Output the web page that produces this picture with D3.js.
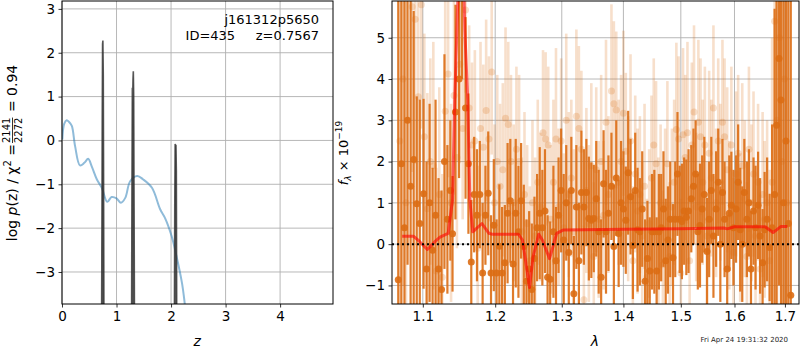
<!DOCTYPE html>
<html>
<head>
<meta charset="utf-8">
<script src="https://cdn.jsdelivr.net/npm/d3@7"></script>
<style>
  body { margin: 0; background: #fff; }
  svg { display: block; font-family: "DejaVu Sans", sans-serif; }
</style>
</head>
<body>
<svg id="chart" width="800" height="350"></svg>
<script>
// ---- p(z) panel ----
const pzZ   = [0.006, 0.04, 0.086, 0.13, 0.18, 0.24, 0.33, 0.41, 0.48, 0.545, 0.64, 0.73, 0.83, 0.91, 1.0, 1.08, 1.16, 1.25, 1.38, 1.49, 1.65, 1.80, 1.89, 2.01, 2.10, 2.20, 2.25, 2.30];
const pzLog = [0.02, 0.38, 0.46, 0.42, 0.33, -0.13, -0.57, -0.51, -0.42, -0.59, -0.89, -1.08, -1.40, -1.29, -1.32, -1.42, -1.31, -0.93, -0.81, -0.89, -1.08, -1.57, -1.77, -2.18, -2.64, -3.25, -3.71, -4.3];

const spikeZ = [
  [0.725, 0.732, 0.738, 0.744, 0.750, 0.757, 0.763, 0.770],
  [1.275, 1.283, 1.290, 1.296, 1.302, 1.308, 1.315, 1.322, 1.330],
  [2.060, 2.068, 2.075, 2.082, 2.090, 2.097, 2.105]
];
const spikeLog = [
  [-4.5, -2.0, 0.5, 2.2, 2.28, 1.5, -1.0, -4.5],
  [-4.5, -1.0, 1.2, 0.9, 1.4, 1.58, 1.0, -1.5, -4.5],
  [-4.5, -1.5, -0.08, -0.12, -0.10, -0.70, -4.5]
];

const zTicks = [0, 1, 2, 3, 4];
const pzTicks = [-3, -2, -1, 0, 1, 2, 3];

// ---- spectrum panel ----
const darkLam = [1.068, 1.072, 1.076, 1.080, 1.084, 1.088, 1.092, 1.096, 1.101, 1.105, 1.109, 1.113, 1.117, 1.121, 1.125, 1.129, 1.133, 1.137, 1.140, 1.144,
  1.149, 1.153, 1.158, 1.162, 1.166, 1.170, 1.174, 1.178, 1.182, 1.186, 1.190, 1.194, 1.198, 1.202, 1.206, 1.210, 1.214, 1.218, 1.222, 1.226,
  1.230, 1.234, 1.238, 1.242, 1.246, 1.250, 1.254, 1.258, 1.262, 1.266, 1.270, 1.274, 1.278, 1.282, 1.287, 1.291, 1.295, 1.299, 1.303, 1.307,
  1.311, 1.315, 1.319, 1.323, 1.327, 1.331, 1.335, 1.339, 1.343, 1.347, 1.351, 1.355, 1.359, 1.363, 1.367, 1.371, 1.375, 1.380, 1.384, 1.388,
  1.392, 1.396, 1.400, 1.404, 1.408, 1.412, 1.416, 1.420, 1.424, 1.428, 1.432, 1.437, 1.441, 1.445, 1.449, 1.453, 1.457, 1.461, 1.465, 1.469,
  1.473, 1.477, 1.481, 1.486, 1.490, 1.494, 1.498, 1.502, 1.506, 1.510, 1.514, 1.519, 1.523, 1.527, 1.531, 1.535, 1.539, 1.543, 1.548, 1.552,
  1.556, 1.560, 1.565, 1.569, 1.573, 1.577, 1.581, 1.586, 1.590, 1.594, 1.598, 1.603, 1.607, 1.611, 1.615, 1.619, 1.624, 1.628, 1.632, 1.637,
  1.641, 1.646, 1.650, 1.655, 1.659, 1.664, 1.669, 1.674, 1.679, 1.683, 1.688, 1.692, 1.697, 1.702, 1.707, 1.712];
const darkFlux = [-0.86, 1.95, 0.40, 3.00, 1.40, 2.05, 0.98, 0.50, 1.22, -0.60, 1.00, -0.15, 0.70, -0.60, -1.10, 2.00, 0.60, 1.30, 0.25, 3.20,
  4.00, 6.50, 3.30, 1.95, -0.43, 1.20, 0.70, 1.20, -0.70, 0.70, 1.23, -0.70, 0.46, -0.70, -0.05, -0.70, -0.45, 0.75, 1.05, -0.48,
  0.75, 0.30, 1.05, -0.06, -0.90, -0.60, -1.10, -0.35, 0.40, 0.75, 0.40, 0.80, -0.80, -0.85, 0.30, -0.40, 0.70, 1.30, 0.10, 1.00,
  -0.20, 1.30, -1.20, 0.90, -0.40, 1.25, 0.90, 1.25, 0.62, 0.58, 0.62, 1.10, 0.30, -0.80, 1.46, 0.30, 0.75, 1.40, -0.06, 1.60,
  0.26, 1.00, 0.85, 0.58, 1.73, 1.15, -0.03, 1.30, 0.35, 0.30, 0.85, -0.90, -0.35, -0.65, 0.30, 0.30, -0.65, 0.30, 0.40, 0.85,
  -0.40, 0.10, 0.60, -0.33, 0.60, 1.70, 0.60, 0.55, 0.80, 0.65, 0.80, 1.10, 1.40, 1.70, 0.30, 0.45, 0.85, 1.20, -0.18, 0.60,
  1.30, 0.20, 0.85, 1.50, 0.00, 1.25, 0.60, -0.60, 0.75, 0.94, 0.40, 0.85, 1.50, 0.35, 0.00, 1.25, 0.60, 1.00, -0.60, 0.80,
  0.40, 0.94, 0.20, -0.45, 0.35, 0.60, -0.08, 0.40, 1.20, 2.88, 4.50, 3.49, 1.00, 2.50, 0.50, -1.24];
const darkErr = [7.0, 4.5, 5.5, 3.5, 4.5, 3.6, 2.6, 3.0, 2.3, 2.6, 2.4, 2.0, 2.8, 2.2, 2.4, 2.6, 1.8, 1.7, 1.4, 2.6,
  2.4, 2.5, 2.2, 1.7, 1.5, 1.4, 1.6, 1.3, 1.7, 1.2, 1.5, 1.4, 1.6, 1.3, 1.5, 1.6, 1.4, 1.7, 1.5, 1.5,
  1.8, 1.6, 1.4, 1.5, 1.5, 1.4, 1.6, 1.5, 1.3, 1.6, 1.4, 1.5, 1.5, 1.4, 1.6, 1.3, 1.4, 1.5, 1.6, 1.4,
  1.5, 1.3, 1.4, 1.5, 1.4, 1.5, 1.4, 1.3, 1.5, 1.4, 1.3, 1.4, 1.5, 1.4, 1.3, 1.5, 1.4, 1.3, 1.5, 1.4,
  1.3, 1.5, 1.4, 1.3, 1.5, 1.4, 1.3, 1.4, 1.5, 1.3, 1.4, 1.5, 1.4, 1.3, 1.4, 1.5, 1.3, 1.4, 1.3, 1.4,
  1.5, 1.3, 1.4, 1.3, 1.4, 1.5, 1.3, 1.4, 1.3, 1.4, 1.5, 1.3, 1.4, 1.3, 1.4, 1.5, 1.3, 1.4, 1.3, 1.4,
  1.3, 1.5, 1.4, 1.3, 1.4, 1.3, 1.4, 1.3, 1.4, 1.3, 1.4, 1.3, 1.4, 1.5, 1.4, 1.3, 1.4, 1.3, 1.4, 1.3,
  1.5, 1.3, 1.4, 1.3, 1.4, 1.5, 1.3, 2.5, 4.5, 5.0, 5.5, 5.0, 6.0, 6.0, 7.0, 7.5];

const lightLam = [1.070, 1.074, 1.078, 1.086, 1.090, 1.094, 1.098, 1.102, 1.106, 1.110, 1.114, 1.118, 1.122, 1.126, 1.130, 1.134, 1.138, 1.142, 1.146, 1.150,
  1.154, 1.158, 1.163, 1.167, 1.171, 1.175, 1.179, 1.183, 1.187, 1.191, 1.195, 1.199, 1.203, 1.207, 1.211, 1.215, 1.219, 1.223, 1.227, 1.231,
  1.235, 1.239, 1.243, 1.247, 1.251, 1.255, 1.259, 1.263, 1.267, 1.271, 1.275, 1.279, 1.283, 1.287, 1.291, 1.295, 1.299, 1.303, 1.307, 1.311,
  1.315, 1.319, 1.323, 1.327, 1.331, 1.335, 1.339, 1.343, 1.347, 1.351, 1.355, 1.359, 1.363, 1.367, 1.371, 1.375, 1.380, 1.384, 1.388, 1.392,
  1.396, 1.400, 1.404, 1.408, 1.412, 1.416, 1.420, 1.424, 1.428, 1.432, 1.436, 1.440, 1.444, 1.448, 1.452, 1.456, 1.460, 1.464, 1.468, 1.472,
  1.476, 1.480, 1.484, 1.488, 1.492, 1.496, 1.500, 1.504, 1.508, 1.512, 1.516, 1.520, 1.524, 1.528, 1.532, 1.536, 1.540, 1.544, 1.548, 1.552,
  1.556, 1.560, 1.565, 1.569, 1.573, 1.577, 1.581, 1.586, 1.590, 1.594, 1.598, 1.603, 1.607, 1.611, 1.615, 1.620, 1.624, 1.628, 1.633, 1.637,
  1.641, 1.646, 1.650, 1.655, 1.659, 1.664, 1.669, 1.674, 1.679, 1.684, 1.689, 1.694, 1.699, 1.704];
const lightFlux = [2.50, 4.00, 1.00, 5.75, 5.45, 3.57, 5.80, 2.60, 0.86, 2.00, 1.90, -0.65, 1.20, -0.80, 3.22, 4.12, 1.00, 3.60, 2.10, 4.36,
  2.80, 5.67, 3.30, 2.40, 2.50, -0.10, 2.80, 2.35, 3.24, 2.55, 4.17, 1.00, 2.00, 1.40, 1.80, 3.05, 2.90, 2.00, 1.00, 2.30,
  2.00, 0.30, 1.20, 0.50, -0.40, 1.00, 0.20, 1.50, 0.90, 2.70, 2.55, 2.40, 0.60, 1.50, 2.55, 0.90, 2.50, 0.40, 3.00, 1.20,
  1.60, 0.30, 3.10, 2.80, 2.30, -1.35, 1.30, 0.50, 1.90, -0.30, 1.80, 0.60, 2.00, 0.70, 2.95, 1.20, 3.71, 3.40, 3.25, 1.50,
  2.00, 3.17, 2.25, 1.10, 2.50, -0.40, 1.70, 0.80, 1.20, 0.20, 1.40, -0.80, 0.50, 1.60, 2.40, 1.95, 0.30, 1.00, -0.50, 0.90,
  1.95, -0.30, 0.90, 1.50, 2.78, 2.55, -0.70, 2.65, 2.10, 2.70, -0.40, 2.40, 3.20, 0.90, 2.95, 2.60, 1.50, 2.40, 0.20, 2.20,
  1.60, 3.30, 1.00, 2.50, 1.50, 2.95, 2.60, 1.80, 0.70, 2.40, -0.20, 1.70, 2.20, 0.40, 1.90, 1.10, -0.30, 2.30, 1.00, 1.70,
  0.20, 1.50, -0.60, 1.20, 0.60, 1.00, -0.40, 1.50, 5.40, 3.00, 5.00, 2.00, 4.00, 1.00];
const lightErr = [6.0, 5.0, 5.0, 4.0, 3.5, 3.0, 3.0, 2.5, 2.8, 2.5, 3.0, 2.5, 2.6, 2.5, 3.0, 2.5, 2.4, 2.4, 2.2, 2.4,
  2.2, 2.0, 2.0, 2.0, 2.2, 2.0, 2.1, 2.0, 2.2, 2.0, 2.0, 1.9, 2.1, 2.0, 2.1, 2.2, 2.0, 2.1, 1.9, 2.0,
  2.1, 1.8, 2.0, 1.9, 1.8, 2.0, 1.9, 2.0, 1.8, 2.0, 2.1, 1.9, 1.8, 2.0, 2.2, 1.9, 2.0, 1.8, 2.1, 2.0,
  1.9, 2.0, 2.1, 2.0, 1.9, 1.8, 2.0, 1.9, 2.0, 1.8, 2.0, 1.9, 2.1, 1.8, 2.0, 1.9, 2.1, 2.0, 1.9, 2.0,
  2.1, 2.0, 1.9, 2.0, 2.1, 1.8, 1.9, 2.0, 1.9, 1.8, 2.0, 1.9, 1.8, 2.0, 2.1, 2.0, 1.8, 1.9, 1.8, 1.9,
  2.0, 1.8, 1.9, 2.0, 2.1, 2.0, 1.8, 2.1, 2.0, 2.2, 1.8, 2.0, 2.1, 1.8, 2.0, 1.9, 2.0, 1.9, 1.8, 2.0,
  1.9, 2.0, 1.8, 2.0, 1.9, 2.0, 1.9, 2.0, 1.8, 1.9, 1.8, 2.0, 1.9, 1.8, 2.0, 1.9, 1.8, 2.0, 1.9, 2.0,
  1.8, 1.9, 1.8, 2.0, 1.9, 2.0, 2.2, 3.5, 5.0, 5.5, 5.0, 6.0, 6.0, 6.5];

const modelLam  = [1.073, 1.088, 1.096, 1.106, 1.116, 1.123, 1.134, 1.140, 1.143, 1.146, 1.150, 1.154, 1.157, 1.161, 1.164, 1.168, 1.181, 1.191, 1.196, 1.234,
  1.240, 1.246, 1.2505, 1.256, 1.2645, 1.270, 1.281, 1.287, 1.292, 1.302, 1.400, 1.500, 1.580, 1.586, 1.600, 1.660, 1.676, 1.692, 1.705];
const modelFlux = [0.19, 0.19, 0.06, -0.13, 0.06, 0.17, 0.26, 1.07, 3.49, 5.17, 7.5, 7.5, 5.17, 3.5, 1.07, 0.30, 0.50, 0.26, 0.24, 0.24,
  0.10, -0.55, -1.05, -0.30, 0.24, 0.10, -0.35, -0.02, 0.26, 0.34, 0.36, 0.37, 0.39, 0.37, 0.42, 0.42, 0.28, 0.43, 0.43];

const lamTicks = [1.1, 1.2, 1.3, 1.4, 1.5, 1.6, 1.7];
const fluxTicks = [-1, 0, 1, 2, 3, 4, 5];

// ---- drawing ----
const svg = d3.select('#chart');
svg.append('rect').attr('width', 800).attr('height', 350).attr('fill', '#fff');

const gridColor = '#b0b0b0';
const tickFont = '13.5px';
const orange = '#dc6d14';

function drawGrid(g, x, y, xTicks, yTicks) {
  const [x0, x1] = x.range();
  const [y0, y1] = y.range();
  g.append('g').selectAll('line').data(xTicks).join('line')
    .attr('x1', d => x(d)).attr('x2', d => x(d)).attr('y1', y1).attr('y2', y0)
    .attr('stroke', gridColor).attr('stroke-width', 0.9);
  g.append('g').selectAll('line').data(yTicks).join('line')
    .attr('x1', x0).attr('x2', x1).attr('y1', d => y(d)).attr('y2', d => y(d))
    .attr('stroke', gridColor).attr('stroke-width', 0.9);
}

function drawAxes(g, x, y, xTicks, yTicks, xFmt) {
  const [x0, x1] = x.range();
  const [y0, y1] = y.range();
  const xa = g.append('g').attr('transform', `translate(0,${y0})`)
    .call(d3.axisBottom(x).tickValues(xTicks).tickFormat(xFmt).tickSize(3.5).tickPadding(3.5));
  const ya = g.append('g').attr('transform', `translate(${x0},0)`)
    .call(d3.axisLeft(y).tickValues(yTicks).tickFormat(d => d < 0 ? '\u2212' + Math.abs(d) : d).tickSize(3.5).tickPadding(3.5));
  [xa, ya].forEach(a => {
    a.select('.domain').remove();
    a.selectAll('text').attr('font-size', tickFont).attr('fill', '#000').attr('font-family', '"DejaVu Sans", sans-serif');
    a.selectAll('line').attr('stroke', '#000').attr('stroke-width', 0.8);
  });
  g.append('rect').attr('x', x0).attr('y', y1).attr('width', x1 - x0).attr('height', y0 - y1)
    .attr('fill', 'none').attr('stroke', '#000').attr('stroke-width', 1);
}

// left panel
const xz = d3.scaleLinear().domain([0, 4.97]).range([62, 333]);
const yp = d3.scaleLinear().domain([-3.73, 3.18]).range([304, 1]);
const left = svg.append('g');
left.append('clipPath').attr('id', 'clipL').append('rect')
  .attr('x', 62).attr('y', 1).attr('width', 271).attr('height', 303);
drawGrid(left, xz, yp, zTicks, pzTicks);
const lclip = left.append('g').attr('clip-path', 'url(#clipL)');
const pzLine = d3.line().x(d => xz(d[0])).y(d => yp(d[1])).curve(d3.curveCatmullRom);
lclip.append('path').datum(d3.zip(pzZ, pzLog)).attr('d', pzLine)
  .attr('fill', 'none').attr('stroke', '#1f77b4').attr('stroke-opacity', 0.5).attr('stroke-width', 2);
spikeZ.forEach((zs, i) => {
  lclip.append('path').datum(d3.zip(zs, spikeLog[i]))
    .attr('d', d3.line().x(d => xz(d[0])).y(d => yp(d[1])))
    .attr('fill', '#333').attr('fill-opacity', 0.8)
    .attr('stroke', '#333').attr('stroke-opacity', 0.8).attr('stroke-width', 1.6);
});
drawAxes(left, xz, yp, zTicks, pzTicks, d3.format('d'));

left.append('text').attr('x', 319).attr('y', 24).attr('text-anchor', 'end')
  .attr('font-size', '13px').text('j161312p5650');
left.append('text').attr('x', 319).attr('y', 40).attr('text-anchor', 'end')
  .attr('font-size', '13px').attr('xml:space', 'preserve').text('ID=435     z=0.7567');
left.append('text').attr('x', xz(2.48)).attr('y', 346).attr('text-anchor', 'middle')
  .attr('font-size', '14px').attr('font-style', 'italic').text('z');

// rotated y label with stacked fraction
const ylab = svg.append('g');
const part1 = ylab.append('text').attr('font-size', '14px').attr('y', 0);
part1.append('tspan').text('log ');
part1.append('tspan').attr('font-style', 'italic').text('p');
part1.append('tspan').text('(z) / \u03c7');
part1.append('tspan').attr('font-size', '10px').attr('dy', -6).text('2');
part1.append('tspan').attr('dy', 6).text(' = ');
const w1 = part1.node().getComputedTextLength();
const num = ylab.append('text').attr('font-size', '10px').attr('text-anchor', 'middle').text('2141');
const fw = num.node().getComputedTextLength();
num.attr('x', w1 + fw / 2 + 1).attr('y', -7);
ylab.append('text').attr('font-size', '10px').attr('text-anchor', 'middle')
  .attr('x', w1 + fw / 2 + 1).attr('y', 5).text('2272');
ylab.append('line').attr('x1', w1 + 1).attr('x2', w1 + fw + 1).attr('y1', -4.5).attr('y2', -4.5)
  .attr('stroke', '#000').attr('stroke-width', 0.8);
const part3 = ylab.append('text').attr('font-size', '14px').attr('x', w1 + fw + 2).attr('y', 0)
  .attr('xml:space', 'preserve').text(' = 0.94');
const wTot = w1 + fw + 2 + part3.node().getComputedTextLength();
ylab.attr('transform', `translate(17,${153 + wTot / 2}) rotate(-90)`);

// right panel
const xl = d3.scaleLog().domain([1.060, 1.729]).range([392, 799]);
const yf = d3.scaleLinear().domain([-1.45, 5.89]).range([304, 1]);
const right = svg.append('g');
right.append('clipPath').attr('id', 'clipR').append('rect')
  .attr('x', 392).attr('y', 1).attr('width', 407).attr('height', 303);
drawGrid(right, xl, yf, lamTicks, fluxTicks);
const rclip = right.append('g').attr('clip-path', 'url(#clipR)');

function errSeries(lam, flux, err, alpha, width) {
  const pts = d3.zip(lam, flux, err);
  const g = rclip.append('g');
  g.selectAll('line').data(pts).join('line')
    .attr('x1', d => xl(d[0])).attr('x2', d => xl(d[0]))
    .attr('y1', d => yf(d[1] - d[2])).attr('y2', d => yf(d[1] + d[2]))
    .attr('stroke', orange).attr('stroke-opacity', alpha).attr('stroke-width', width);
  g.selectAll('circle').data(pts).join('circle')
    .attr('cx', d => xl(d[0])).attr('cy', d => yf(d[1])).attr('r', 3.5)
    .attr('fill', orange).attr('fill-opacity', alpha);
}
// light spectrum underneath, dark one on top
errSeries(lightLam, lightFlux, lightErr, 0.22, 2.6);
errSeries(darkLam, darkFlux, darkErr, 0.9, 2.2);

rclip.append('path').datum(d3.zip(modelLam, modelFlux))
  .attr('d', d3.line().x(d => xl(d[0])).y(d => yf(d[1])))
  .attr('fill', 'none').attr('stroke', '#ff0000').attr('stroke-opacity', 0.6)
  .attr('stroke-width', 3).attr('stroke-linejoin', 'round');

rclip.append('line').attr('x1', 392).attr('x2', 799).attr('y1', yf(0)).attr('y2', yf(0))
  .attr('stroke', '#000').attr('stroke-width', 2).attr('stroke-dasharray', '2,3');

drawAxes(right, xl, yf, lamTicks, fluxTicks, d3.format('.1f'));

right.append('text').attr('x', 595).attr('y', 346).attr('text-anchor', 'middle')
  .attr('font-size', '14px').attr('font-style', 'italic').text('\u03bb');

const flab = svg.append('text').attr('transform', 'translate(348,153) rotate(-90)')
  .attr('text-anchor', 'middle').attr('font-size', '13px');
flab.append('tspan').attr('font-style', 'italic').text('f');
flab.append('tspan').attr('font-size', '9px').attr('dy', 3).attr('font-style', 'italic').text('\u03bb');
flab.append('tspan').attr('dy', -3).text(' \u00d7 10');
flab.append('tspan').attr('font-size', '9px').attr('dy', -6).text('\u221219');

svg.append('text').attr('x', 788).attr('y', 342).attr('text-anchor', 'end')
  .attr('font-size', '7px').attr('fill', '#222').text('Fri Apr 24 19:31:32 2020');
</script>
</body>
</html>
